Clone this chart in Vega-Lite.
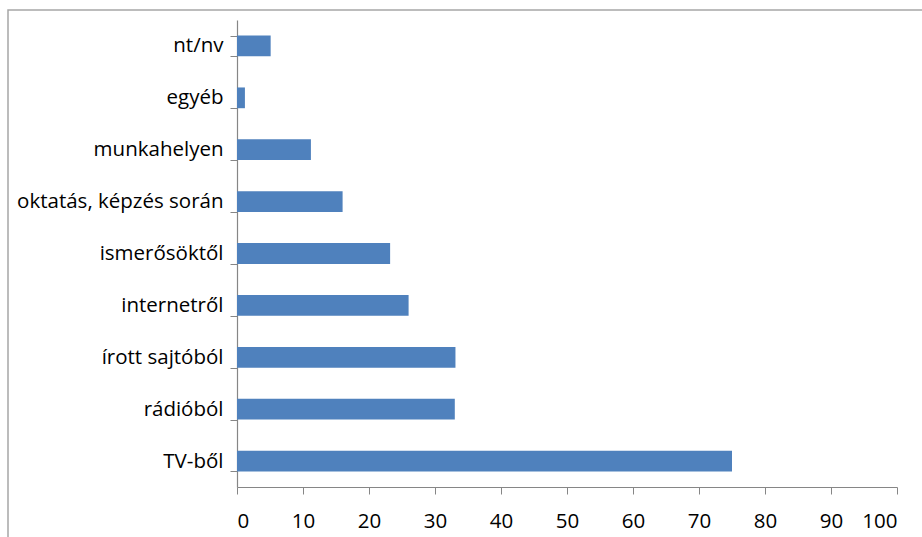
{
  "$schema": "https://vega.github.io/schema/vega-lite/v6.json",
  "autosize": "none",
  "width": 950,
  "height": 560,
  "padding": {"left": 8, "top": 10, "right": 0, "bottom": 0},
  "background": "white",
  "config": {
    "view": {"stroke": "#a6a6a6", "strokeWidth": 1.5},
    "font": "Open Sans",
    "axis": {
      "domainColor": "#868686",
      "tickColor": "#868686",
      "labelColor": "#000000",
      "labelFont": "Open Sans",
      "labelFontSize": 20.5,
      "labelLimit": 400,
      "grid": false,
      "title": null,
      "tickSize": 7
    }
  },
  "data": {
    "values": [
      {"forras": "nt/nv", "ertek": 5.1},
      {"forras": "egyéb", "ertek": 1.2},
      {"forras": "munkahelyen", "ertek": 11.2},
      {"forras": "oktatás, képzés során", "ertek": 16},
      {"forras": "ismerősöktől", "ertek": 23.2},
      {"forras": "internetről", "ertek": 26},
      {"forras": "írott sajtóból", "ertek": 33.1},
      {"forras": "rádióból", "ertek": 33},
      {"forras": "TV-ből", "ertek": 75}
    ]
  },
  "mark": {"type": "bar", "color": "#4F81BD"},
  "encoding": {
    "y": {
      "field": "forras",
      "type": "nominal",
      "sort": null,
      "scale": {"range": [10, 477], "paddingInner": 0.6, "paddingOuter": 0.3},
      "axis": {"offset": -229, "tickBand": "extent", "labelPadding": 7, "domainWidth": 1.2}
    },
    "x": {
      "field": "ertek",
      "type": "quantitative",
      "scale": {"domain": [0, 100], "range": [229, 889], "nice": false},
      "axis": {"offset": -83, "values": [0,10,20,30,40,50,60,70,80,90,100], "labelPadding": 17}
    }
  }
}
